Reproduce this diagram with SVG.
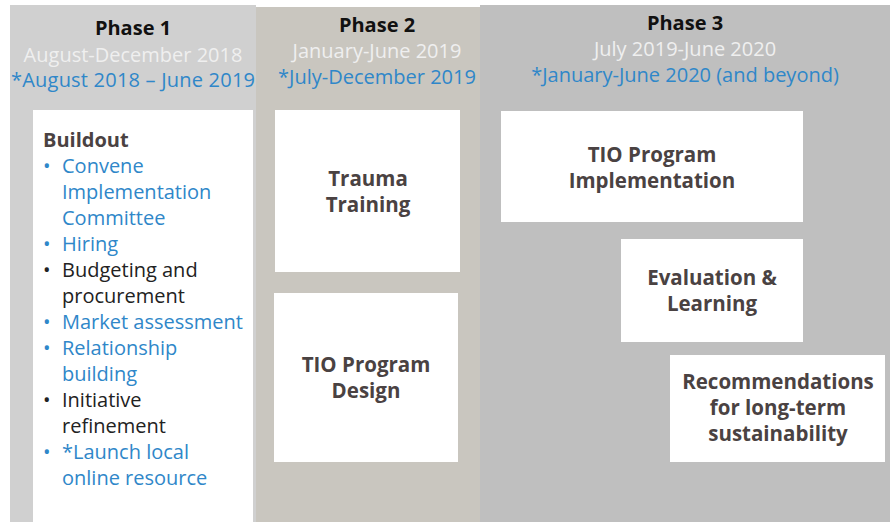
<svg xmlns="http://www.w3.org/2000/svg" width="890" height="522" viewBox="0 0 890 522">
<style>
text{font-family:"Open Sans","Noto Sans","DejaVu Sans",sans-serif}
.ph{font-size:20px;font-weight:bold;fill:#111;text-anchor:middle}
.dt{font-size:20px;fill:#efefef;text-anchor:middle}
.bl{font-size:20px;fill:#2f87c9;text-anchor:middle}
.box{fill:#ffffff}
.lab{font-size:20.5px;font-weight:bold;fill:#4a4242;text-anchor:middle}
.li{font-size:20px}
.blue{fill:#2f87c9}
.blk{fill:#222}
</style>
<rect width="890" height="522" fill="#ffffff"/>
<g id="phase1">
<rect x="10" y="5" width="246" height="517" fill="#d0d0d0"/>
<text class="ph" x="133" y="35">Phase 1</text>
<text class="dt" x="133" y="62">August-December 2018</text>
<text class="bl" x="133" y="87" textLength="244">*August 2018 – June 2019</text>
</g>
<g id="phase2">
<rect x="256" y="7" width="224" height="515" fill="#c9c6bf"/>
<text class="ph" x="377" y="32">Phase 2</text>
<text class="dt" x="377" y="58">January-June 2019</text>
<text class="bl" x="377" y="84">*July-December 2019</text>
</g>
<g id="phase3">
<rect x="480" y="5" width="410" height="517" fill="#bfbfbf"/>
<text class="ph" x="685" y="30">Phase 3</text>
<text class="dt" x="685" y="56">July 2019-June 2020</text>
<text class="bl" x="685" y="82">*January-June 2020 (and beyond)</text>
</g>
<g id="buildout">
<rect class="box" x="33" y="110" width="220" height="412"/>
<text x="43" y="147" font-size="20" font-weight="bold" fill="#4a4242">Buildout</text>
<g class="li">
<text class="blue" x="43" y="173">•</text><text class="blue" x="62" y="173">Convene</text>
<text class="blue" x="62" y="199">Implementation</text>
<text class="blue" x="62" y="225">Committee</text>
<text class="blue" x="43" y="251">•</text><text class="blue" x="62" y="251">Hiring</text>
<text class="blk" x="43" y="277">•</text><text class="blk" x="62" y="277">Budgeting and</text>
<text class="blk" x="62" y="303">procurement</text>
<text class="blue" x="43" y="329">•</text><text class="blue" x="62" y="329">Market assessment</text>
<text class="blue" x="43" y="355">•</text><text class="blue" x="62" y="355">Relationship</text>
<text class="blue" x="62" y="381">building</text>
<text class="blk" x="43" y="407">•</text><text class="blk" x="62" y="407">Initiative</text>
<text class="blk" x="62" y="433">refinement</text>
<text class="blue" x="43" y="459">•</text><text class="blue" x="62" y="459">*Launch local</text>
<text class="blue" x="62" y="485">online resource</text>
</g>
</g>
<g id="trauma">
<rect class="box" x="275" y="110" width="185" height="162"/>
<text class="lab" x="368" y="186">Trauma</text>
<text class="lab" x="368" y="212">Training</text>
</g>
<g id="design">
<rect class="box" x="274" y="293" width="184" height="169"/>
<text class="lab" x="366" y="372">TIO Program</text>
<text class="lab" x="366" y="398">Design</text>
</g>
<g id="implementation">
<rect class="box" x="501" y="111" width="302" height="111"/>
<text class="lab" x="652" y="162">TIO Program</text>
<text class="lab" x="652" y="188">Implementation</text>
</g>
<g id="evaluation">
<rect class="box" x="621" y="239" width="182" height="103"/>
<text class="lab" x="712" y="285">Evaluation &amp;</text>
<text class="lab" x="712" y="311">Learning</text>
</g>
<g id="recommendations">
<rect class="box" x="670" y="355" width="215" height="107"/>
<text class="lab" x="778" y="389">Recommendations</text>
<text class="lab" x="778" y="415">for long-term</text>
<text class="lab" x="778" y="441">sustainability</text>
</g>
<g id="connectors"/>
</svg>
